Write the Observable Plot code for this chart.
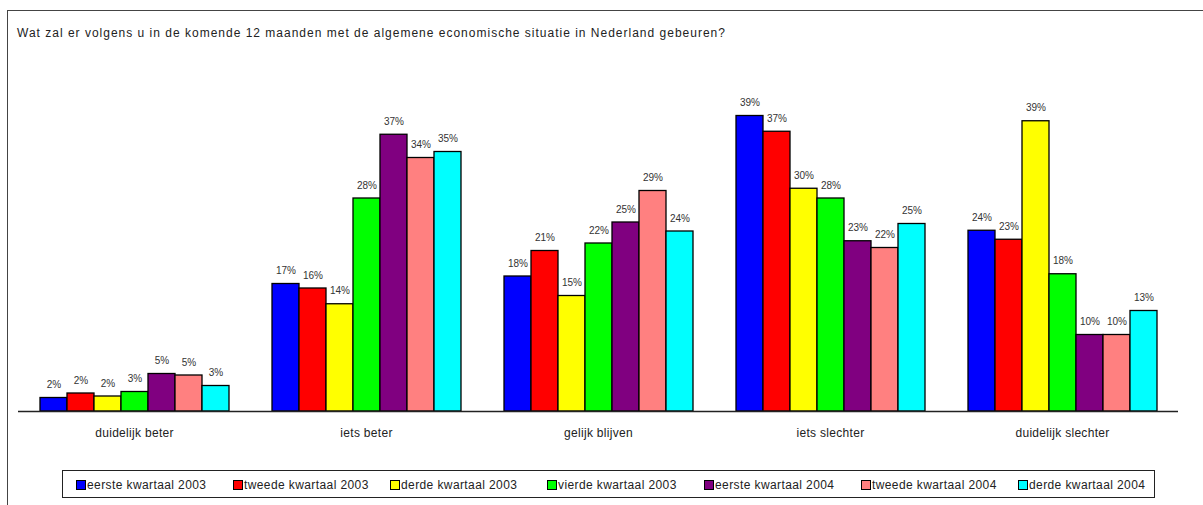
<!DOCTYPE html>
<html>
<head>
<meta charset="utf-8">
<script src="https://cdn.jsdelivr.net/npm/d3@7"></script>
<script src="https://cdn.jsdelivr.net/npm/@observablehq/plot@0.6"></script>
<style>
  html, body { margin: 0; padding: 0; background: #fff; }
  body { width: 1203px; height: 505px; overflow: hidden; position: relative; font-family: "Liberation Sans", Arial, sans-serif; }
  #frame { position: absolute; left: 7px; top: 10px; width: 1400px; height: 700px; border-left: 1.5px solid #444; border-top: 1.5px solid #444; }
  #title { position: absolute; left: 17px; top: 26px; font-size: 12px; line-height: 14px; color: #222; letter-spacing: 1px; white-space: nowrap; }
  #chart { position: absolute; left: 0; top: 0; }
  #legend { position: absolute; left: 62px; top: 470px; width: 1093px; height: 28px; border: 1px solid #222; box-sizing: border-box; }
  .item { position: absolute; top: 7px; display: flex; align-items: center; font-size: 12px; color: #222; white-space: nowrap; letter-spacing: 0.4px; }
  .sw { width: 8px; height: 8px; border: 1px solid #000; margin-right: 1px; }
</style>
</head>
<body>
<div id="frame"></div>
<div id="title"></div>
<div id="chart"></div>
<div id="legend"></div>
<script>
const titleText = "Wat zal er volgens u in de komende 12 maanden met de algemene economische situatie in Nederland gebeuren?";
const categories = ["duidelijk beter", "iets beter", "gelijk blijven", "iets slechter", "duidelijk slechter"];
const series = ["eerste kwartaal 2003", "tweede kwartaal 2003", "derde kwartaal 2003", "vierde kwartaal 2003", "eerste kwartaal 2004", "tweede kwartaal 2004", "derde kwartaal 2004"];
const colors = ["#0000FF", "#FF0000", "#FFFF00", "#00FF00", "#800080", "#FF8080", "#00FFFF"];

// values in percent, per series, in category order
const q1_2003 = [1.8, 17.0, 18.0, 39.4, 24.1];
const q2_2003 = [2.4, 16.4, 21.4, 37.3, 22.9];
const q3_2003 = [2.0, 14.3, 15.4, 29.7, 38.7];
const q4_2003 = [2.6, 28.4, 22.4, 28.4, 18.3];
const q1_2004 = [5.0, 36.9, 25.2, 22.7, 10.2];
const q2_2004 = [4.8, 33.8, 29.4, 21.8, 10.2];
const q3_2004 = [3.4, 34.6, 24.0, 25.0, 13.4];
const valuesBySeries = [q1_2003, q2_2003, q3_2003, q4_2003, q1_2004, q2_2004, q3_2004];

const rows = [];
categories.forEach((c, ci) => series.forEach((s, si) => rows.push({category: c, series: s, value: valuesBySeries[si][ci]})));

document.getElementById("title").textContent = titleText;

const W = 1203, H = 445, ML = 18, MR = 25, MT = 111, MB = 34;
const facetW = (W - ML - MR) / categories.length;

const chart = Plot.plot({
  width: W, height: H,
  marginLeft: ML, marginRight: MR, marginTop: MT, marginBottom: MB,
  style: {background: "transparent", fontFamily: "'Liberation Sans', Arial, sans-serif", overflow: "visible"},
  facet: {data: rows, x: "category"},
  fx: {domain: categories, paddingInner: 0, paddingOuter: 0, label: null, tickSize: 0, tickPadding: 17, axis: "bottom"},
  x: {domain: series, paddingInner: 0, paddingOuter: 0.73, axis: null},
  y: {domain: [0, 40], axis: null},
  color: {domain: series, range: colors},
  marks: [
    Plot.barY(rows, {x: "series", y: "value", fill: "series", stroke: "#000", strokeWidth: 1.3}),
    Plot.text(rows, {x: "series", y: "value", text: d => Math.round(d.value) + "%", dy: -13, fontSize: 10, fill: "#333"}),
    Plot.ruleY([0], {stroke: "#222", strokeWidth: 1.3}),
    Plot.ruleX([0], {y1: 0, y2: -0.45, dx: -facetW / 2, stroke: "#222", strokeWidth: 1.3}),
    Plot.ruleX([0], {y1: 0, y2: -0.45, dx: facetW / 2, stroke: "#222", strokeWidth: 1.3})
  ]
});
document.getElementById("chart").appendChild(chart);
chart.querySelectorAll("g[aria-label='fx-axis'] text, g[aria-label='fx-axis tick label'] text").forEach(t => {
  t.setAttribute("font-size", "12"); t.style.fontSize = "12px"; t.style.letterSpacing = "0.3px"; t.setAttribute("fill", "#222");
});

const legend = document.getElementById("legend");
series.forEach((s, i) => {
  const it = document.createElement("div");
  it.className = "item";
  it.style.left = (13 + i * 157) + "px";
  const sw = document.createElement("div");
  sw.className = "sw";
  sw.style.background = colors[i];
  const tx = document.createElement("span");
  tx.textContent = s;
  it.appendChild(sw); it.appendChild(tx);
  legend.appendChild(it);
});
</script>
</body>
</html>
